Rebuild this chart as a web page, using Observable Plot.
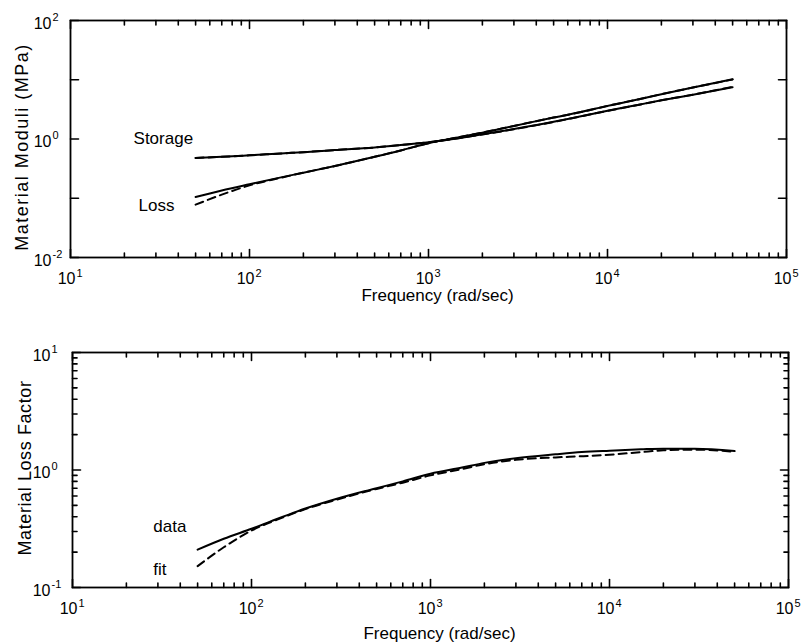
<!DOCTYPE html>
<html><head><meta charset="utf-8">
<script src="https://cdn.jsdelivr.net/npm/d3@7"></script>
<script src="https://cdn.jsdelivr.net/npm/@observablehq/plot@0.6"></script>
<style>
body{margin:0;background:#fff;}
svg{display:block;}
</style></head><body><div id="chart"></div>
<script>
// ---- data ----
const frequency = [50,70,100,150,200,300,500,700,1000,1500,2000,3000,5000,7000,10000,15000,20000,30000,50000];
const storageData = [0.48,0.50,0.53,0.57,0.60,0.65,0.72,0.79,0.88,1.04,1.20,1.47,1.95,2.40,3.0,3.8,4.5,5.6,7.5];
const storageFit  = [0.48,0.50,0.53,0.57,0.60,0.65,0.72,0.79,0.88,1.04,1.19,1.46,1.94,2.39,2.98,3.78,4.5,5.6,7.6];
const lossData    = [0.105,0.135,0.172,0.225,0.27,0.35,0.50,0.64,0.85,1.08,1.28,1.66,2.30,2.82,3.62,4.7,5.7,7.4,10.2];
const lossFit     = [0.078,0.115,0.165,0.222,0.27,0.35,0.50,0.64,0.85,1.08,1.28,1.66,2.30,2.82,3.62,4.7,5.7,7.4,10.1];
const lossFactorData = [0.21,0.26,0.316,0.40,0.47,0.57,0.70,0.80,0.93,1.05,1.15,1.26,1.36,1.42,1.46,1.50,1.52,1.52,1.45];
const lossFactorFit  = [0.152,0.22,0.305,0.395,0.465,0.56,0.69,0.78,0.90,1.02,1.12,1.22,1.28,1.31,1.35,1.42,1.47,1.49,1.43];

const xTickValues = [1e1,1e2,1e3,1e4,1e5];
const xTickExponents = ["1","2","3","4","5"];
const topYTickValues = [1e-2,1e0,1e2];
const topYTickExponents = ["-2","0","2"];
const topYMajor = [1e-2,1e-1,1e0,1e1,1e2];
const botYTickValues = [1e-1,1e0,1e1];
const botYTickExponents = ["-1","0","1"];

const xLabel = "Frequency (rad/sec)";
const topYLabel = "Material Moduli (MPa)";
const botYLabel = "Material Loss Factor";
const topNotes = [{text:"Storage", x:22.5, y:1.0}, {text:"Loss", x:24, y:0.074}];
const botNotes = [{text:"data", x:28.3, y:0.333}, {text:"fit", x:28.3, y:0.141}];

// ---- helpers ----
const font = "'Liberation Sans', Arial, Helvetica, sans-serif";
const minorOf = (decades) => decades.flatMap(d => [2,3,4,5,6,7,8,9].map(k => k*d));
const table = (vals) => frequency.map((f,i) => ({f, v: vals[i]}));
const xDomain = [1e1, 1e5];

function panel(o) {
  const W = 804, H = 322;
  const fw = W - o.ml - o.mr, fh = H - o.mt - o.mb;
  const xMinor = minorOf([1e1,1e2,1e3,1e4]);
  const [y0, y1] = o.yDomain, [x0, x1] = xDomain;
  // tick length (pixels) expressed as a ratio along each log axis
  const yStep = (px) => Math.pow(y1 / y0, px / fh);
  const xStep = (px) => Math.pow(x1 / x0, px / fw);
  const segs = [];
  let id = 0;
  const addX = (vals, px) => vals.forEach(t => {
    segs.push({id, x:t, y:y0}, {id, x:t, y:y0*yStep(px)}); id++;
    segs.push({id, x:t, y:y1}, {id, x:t, y:y1/yStep(px)}); id++;
  });
  const addY = (vals, px) => vals.forEach(t => {
    segs.push({id, x:x0, y:t}, {id, x:x0*xStep(px), y:t}); id++;
    segs.push({id, x:x1, y:t}, {id, x:x1/xStep(px), y:t}); id++;
  });
  addX(xTickValues, 8); addX(xMinor, 4.5);
  addY(o.yMajor, 8);
  if (o.yMinor) addY(o.yMinor, 4.5);

  const marks = [
    Plot.line(segs, {x:"x", y:"y", z:"id", stroke:"black", strokeWidth:1.6, curve:"linear"}),
    Plot.frame({stroke:"black", strokeWidth:1.8})
  ];
  for (const s of o.series) {
    marks.push(Plot.line(table(s.vals), {x:"f", y:"v", stroke:"black", strokeWidth:2,
      curve:"monotone-x", strokeDasharray: s.dash ? "8,5" : null}));
  }
  marks.push(Plot.text(xTickValues, {x:d=>d, frameAnchor:"bottom", text:()=>"10",
    textAnchor:"end", lineAnchor:"bottom", dx:5, dy:26, fontSize:16, fill:"black"}));
  marks.push(Plot.text(xTickValues, {x:d=>d, frameAnchor:"bottom", text:(d,i)=>xTickExponents[i],
    textAnchor:"start", lineAnchor:"bottom", dx:6, dy:19, fontSize:11, fill:"black"}));
  marks.push(Plot.text(o.yTickValues, {y:d=>d, frameAnchor:"left", text:()=>"10",
    textAnchor:"end", lineAnchor:"bottom", dx:o.yTickDx, dy:8, fontSize:16, fill:"black"}));
  marks.push(Plot.text(o.yTickValues, {y:d=>d, frameAnchor:"left", text:(d,i)=>o.yTickExponents[i],
    textAnchor:"start", lineAnchor:"bottom", dx:o.yTickDx+1, dy:0, fontSize:11, fill:"black"}));
  marks.push(Plot.text([xLabel], {frameAnchor:"bottom", text:d=>d, textAnchor:"middle", lineAnchor:"bottom",
    dx:9, dy:o.xLabelDy, fontSize:17, fill:"black"}));
  marks.push(Plot.text([o.yLabel], {frameAnchor:"left", text:d=>d, rotate:-90, textAnchor:"middle",
    lineAnchor:"bottom", dx:o.yLabelDx, dy:o.yLabelDy, fontSize:18, fill:"black"}));
  marks.push(Plot.text(o.notes, {x:"x", y:"y", text:"text", textAnchor:"start",
    fontSize:17, fill:"black"}));

  const svg = Plot.plot({
    width: W, height: H,
    marginTop: o.mt, marginBottom: o.mb, marginLeft: o.ml, marginRight: o.mr,
    x: {type:"log", domain:xDomain, axis:null},
    y: {type:"log", domain:o.yDomain, axis:null},
    style: {fontFamily: font, background:"white", color:"black"},
    marks
  });
  d3.select(svg).selectAll("text")
    .filter(function(){ return this.textContent === o.yLabel; })
    .attr("letter-spacing", o.ySpacing);
  return svg;
}

const topPanel = panel({
  mt:20, mb:65, ml:70, mr:18,
  yDomain:[1e-2,1e2], yMajor: topYMajor, yMinor: null,
  yTickValues: topYTickValues, yTickExponents: topYTickExponents, yTickDx:-19,
  series:[{vals:storageData},{vals:lossData},{vals:storageFit,dash:true},{vals:lossFit,dash:true}],
  notes: topNotes, yLabel: topYLabel, yLabelDx:-43, yLabelDy:8, ySpacing:1.5, xLabelDy:43
});
const bottomPanel = panel({
  mt:30, mb:57, ml:72, mr:16,
  yDomain:[1e-1,1e1], yMajor: botYTickValues, yMinor: minorOf([1e-1,1e0]),
  yTickValues: botYTickValues, yTickExponents: botYTickExponents, yTickDx:-22,
  series:[{vals:lossFactorData},{vals:lossFactorFit,dash:true}],
  notes: botNotes, yLabel: botYLabel, yLabelDx:-42, yLabelDy:-2, ySpacing:0.6, xLabelDy:51
});
const host = document.getElementById("chart");
host.appendChild(topPanel);
host.appendChild(bottomPanel);
</script>
</body></html>
